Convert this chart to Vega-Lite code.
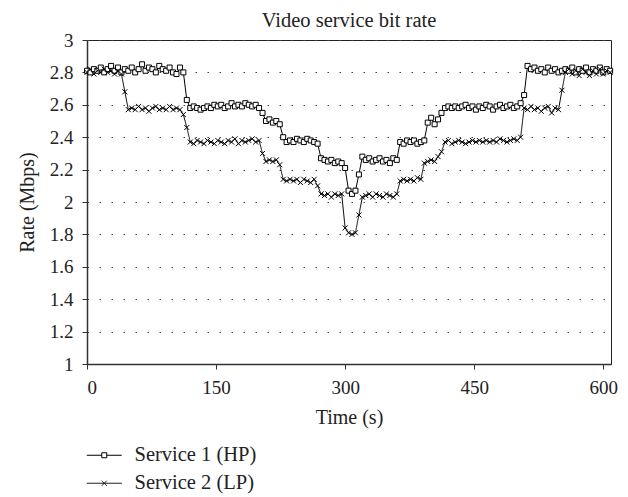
{
"$schema": "https://vega.github.io/schema/vega-lite/v6.json",
"width": 524, "height": 324,
"autosize": {"type": "none"},
"padding": {"left": 87, "top": 40, "right": 17, "bottom": 133},
"background": "white",
"config": {
  "font": "Liberation Serif",
  "view": {"stroke": "#222", "strokeWidth": 1},
  "axis": {"labelFont": "Liberation Serif", "titleFont": "Liberation Serif", "labelFontSize": 19, "titleFontSize": 20, "labelColor": "#222", "titleColor": "#222", "titleFontWeight": "normal", "domainColor": "#333", "tickColor": "#333", "domainWidth": 1.5}
},
"title": {"text": "Video service bit rate", "fontSize": 20.5, "fontWeight": "normal", "font": "Liberation Serif", "color": "#222", "offset": 0, "anchor": "middle"},
"data": {"values": [
{"t":0,"hp":2.81,"lp":2.80},{"t":4,"hp":2.80,"lp":2.82},{"t":8,"hp":2.82,"lp":2.79},{"t":12,"hp":2.81,"lp":2.81},
{"t":16,"hp":2.83,"lp":2.80},{"t":20,"hp":2.80,"lp":2.82},{"t":24,"hp":2.82,"lp":2.80},{"t":28,"hp":2.84,"lp":2.81},
{"t":32,"hp":2.81,"lp":2.79},{"t":36,"hp":2.83,"lp":2.81},{"t":40,"hp":2.80,"lp":2.79},{"t":44,"hp":2.82,"lp":2.68},
{"t":48,"hp":2.81,"lp":2.57},{"t":52,"hp":2.83,"lp":2.58},{"t":56,"hp":2.80,"lp":2.57},{"t":60,"hp":2.82,"lp":2.59},
{"t":64,"hp":2.85,"lp":2.57},{"t":68,"hp":2.81,"lp":2.58},{"t":72,"hp":2.83,"lp":2.56},{"t":76,"hp":2.82,"lp":2.58},
{"t":80,"hp":2.80,"lp":2.59},{"t":84,"hp":2.84,"lp":2.57},{"t":88,"hp":2.82,"lp":2.58},{"t":92,"hp":2.81,"lp":2.57},
{"t":96,"hp":2.83,"lp":2.59},{"t":100,"hp":2.80,"lp":2.57},{"t":104,"hp":2.79,"lp":2.58},{"t":108,"hp":2.83,"lp":2.57},
{"t":112,"hp":2.80,"lp":2.54},{"t":116,"hp":2.63,"lp":2.46},{"t":120,"hp":2.58,"lp":2.37},{"t":124,"hp":2.59,"lp":2.36},
{"t":128,"hp":2.58,"lp":2.38},{"t":132,"hp":2.57,"lp":2.37},{"t":136,"hp":2.58,"lp":2.36},{"t":140,"hp":2.59,"lp":2.38},
{"t":144,"hp":2.58,"lp":2.37},{"t":148,"hp":2.60,"lp":2.36},{"t":152,"hp":2.59,"lp":2.38},{"t":156,"hp":2.60,"lp":2.37},
{"t":160,"hp":2.58,"lp":2.36},{"t":164,"hp":2.59,"lp":2.38},{"t":168,"hp":2.61,"lp":2.37},{"t":172,"hp":2.59,"lp":2.39},
{"t":176,"hp":2.60,"lp":2.36},{"t":180,"hp":2.59,"lp":2.38},{"t":184,"hp":2.61,"lp":2.37},{"t":188,"hp":2.60,"lp":2.38},
{"t":192,"hp":2.59,"lp":2.39},{"t":196,"hp":2.60,"lp":2.37},{"t":200,"hp":2.58,"lp":2.38},{"t":204,"hp":2.55,"lp":2.30},
{"t":208,"hp":2.50,"lp":2.25},{"t":212,"hp":2.51,"lp":2.26},{"t":216,"hp":2.49,"lp":2.25},{"t":220,"hp":2.50,"lp":2.26},
{"t":224,"hp":2.48,"lp":2.23},{"t":228,"hp":2.40,"lp":2.14},{"t":232,"hp":2.37,"lp":2.13},{"t":236,"hp":2.38,"lp":2.14},
{"t":240,"hp":2.37,"lp":2.13},{"t":244,"hp":2.39,"lp":2.14},{"t":248,"hp":2.38,"lp":2.12},{"t":252,"hp":2.37,"lp":2.14},
{"t":256,"hp":2.39,"lp":2.13},{"t":260,"hp":2.38,"lp":2.12},{"t":264,"hp":2.37,"lp":2.14},{"t":268,"hp":2.36,"lp":2.10},
{"t":272,"hp":2.27,"lp":2.05},{"t":276,"hp":2.26,"lp":2.04},{"t":280,"hp":2.25,"lp":2.05},{"t":284,"hp":2.26,"lp":2.03},
{"t":288,"hp":2.24,"lp":2.05},{"t":292,"hp":2.25,"lp":2.04},{"t":296,"hp":2.24,"lp":2.05},{"t":300,"hp":2.21,"lp":1.84},
{"t":304,"hp":2.07,"lp":1.81},{"t":308,"hp":2.05,"lp":1.80},{"t":312,"hp":2.07,"lp":1.81},{"t":316,"hp":2.17,"lp":1.92},
{"t":320,"hp":2.28,"lp":2.03},{"t":324,"hp":2.26,"lp":2.04},{"t":328,"hp":2.27,"lp":2.05},{"t":332,"hp":2.25,"lp":2.03},
{"t":336,"hp":2.26,"lp":2.05},{"t":340,"hp":2.27,"lp":2.04},{"t":344,"hp":2.25,"lp":2.03},{"t":348,"hp":2.26,"lp":2.05},
{"t":352,"hp":2.24,"lp":2.04},{"t":356,"hp":2.27,"lp":2.03},{"t":360,"hp":2.26,"lp":2.05},{"t":364,"hp":2.37,"lp":2.13},
{"t":368,"hp":2.36,"lp":2.14},{"t":372,"hp":2.38,"lp":2.13},{"t":376,"hp":2.37,"lp":2.14},{"t":380,"hp":2.38,"lp":2.13},
{"t":384,"hp":2.36,"lp":2.15},{"t":388,"hp":2.37,"lp":2.14},{"t":392,"hp":2.38,"lp":2.24},{"t":396,"hp":2.49,"lp":2.25},
{"t":400,"hp":2.52,"lp":2.26},{"t":404,"hp":2.48,"lp":2.25},{"t":408,"hp":2.51,"lp":2.28},{"t":412,"hp":2.55,"lp":2.31},
{"t":416,"hp":2.58,"lp":2.37},{"t":420,"hp":2.59,"lp":2.38},{"t":424,"hp":2.58,"lp":2.36},{"t":428,"hp":2.59,"lp":2.37},
{"t":432,"hp":2.58,"lp":2.38},{"t":436,"hp":2.59,"lp":2.37},{"t":440,"hp":2.60,"lp":2.36},{"t":444,"hp":2.58,"lp":2.37},
{"t":448,"hp":2.59,"lp":2.38},{"t":452,"hp":2.57,"lp":2.37},{"t":456,"hp":2.59,"lp":2.38},{"t":460,"hp":2.58,"lp":2.37},
{"t":464,"hp":2.60,"lp":2.38},{"t":468,"hp":2.59,"lp":2.37},{"t":472,"hp":2.57,"lp":2.38},{"t":476,"hp":2.59,"lp":2.37},
{"t":480,"hp":2.60,"lp":2.39},{"t":484,"hp":2.58,"lp":2.38},{"t":488,"hp":2.59,"lp":2.37},{"t":492,"hp":2.60,"lp":2.38},
{"t":496,"hp":2.58,"lp":2.39},{"t":500,"hp":2.59,"lp":2.38},{"t":504,"hp":2.61,"lp":2.40},{"t":508,"hp":2.66,"lp":2.58},
{"t":512,"hp":2.84,"lp":2.57},{"t":516,"hp":2.82,"lp":2.59},{"t":520,"hp":2.83,"lp":2.57},{"t":524,"hp":2.81,"lp":2.58},
{"t":528,"hp":2.82,"lp":2.56},{"t":532,"hp":2.80,"lp":2.58},{"t":536,"hp":2.83,"lp":2.59},{"t":540,"hp":2.81,"lp":2.55},
{"t":544,"hp":2.82,"lp":2.58},{"t":548,"hp":2.80,"lp":2.57},{"t":552,"hp":2.81,"lp":2.69},{"t":556,"hp":2.82,"lp":2.80},
{"t":560,"hp":2.81,"lp":2.82},{"t":564,"hp":2.83,"lp":2.79},{"t":568,"hp":2.80,"lp":2.81},{"t":572,"hp":2.82,"lp":2.78},
{"t":576,"hp":2.81,"lp":2.82},{"t":580,"hp":2.83,"lp":2.80},{"t":584,"hp":2.80,"lp":2.78},{"t":588,"hp":2.82,"lp":2.81},
{"t":592,"hp":2.81,"lp":2.79},{"t":596,"hp":2.83,"lp":2.82},{"t":600,"hp":2.80,"lp":2.79},{"t":604,"hp":2.82,"lp":2.81},
{"t":608,"hp":2.81,"lp":2.80}
]},
"transform": [{"fold": ["hp", "lp"], "as": ["series", "rate"]}],
"encoding": {
  "x": {"field": "t", "type": "quantitative", "scale": {"domain": [0, 609], "nice": false, "zero": false},
        "axis": {"values": [0, 150, 300, 450, 600], "title": "Time (s)", "grid": false, "tickSize": 5, "labelPadding": 9, "titlePadding": 10}},
  "y": {"field": "rate", "type": "quantitative", "scale": {"domain": [1, 3], "nice": false, "zero": false},
        "axis": {"values": [1, 1.2, 1.4, 1.6, 1.8, 2, 2.2, 2.4, 2.6, 2.8, 3], "format": "~g", "title": "Rate (Mbps)", "grid": true, "gridDash": [1.5, 10.5], "gridColor": "#444", "gridWidth": 1.2, "tickSize": 5, "labelPadding": 9, "titlePadding": 12}}
},
"layer": [
  {"transform": [{"filter": "datum.series == 'hp'"}],
   "mark": {"type": "line", "strokeWidth": 1},
   "encoding": {"color": {"field": "series", "type": "nominal",
      "scale": {"domain": ["hp"], "range": ["black"]},
      "legend": {"orient": "none", "legendX": 7, "legendY": 405, "direction": "vertical", "title": null, "padding": 0,
        "symbolType": "M-3.5,0H-0.5M0.5,0H3.5M-0.5,-0.5H0.5V0.5H-0.5Z", "symbolSize": 100, "symbolStrokeWidth": 1, "symbolStrokeColor": "black", "symbolFillColor": "white",
        "labelFont": "Liberation Serif", "labelFontSize": 20.5, "labelColor": "#222", "labelOffset": 20, "labelExpr": "'Service 1 (HP)'"}}}},
  {"transform": [{"filter": "datum.series == 'lp'"}],
   "mark": {"type": "line", "strokeWidth": 1, "color": "black"},
   "encoding": {"strokeDash": {"field": "series", "type": "nominal",
      "scale": {"domain": ["lp"], "range": [[1, 0]]},
      "legend": {"orient": "none", "legendX": 7, "legendY": 433, "direction": "vertical", "title": null, "padding": 0,
        "symbolType": "M-3.5,0H3.5M-0.5,-0.5L0.5,0.5M-0.5,0.5L0.5,-0.5", "symbolSize": 100, "symbolStrokeWidth": 1, "symbolStrokeColor": "black", "symbolFillColor": "white",
        "labelFont": "Liberation Serif", "labelFontSize": 20.5, "labelColor": "#222", "labelOffset": 20, "labelExpr": "'Service 2 (LP)'"}}}},
  {"mark": {"type": "point", "filled": true, "fill": "white", "stroke": "black", "strokeWidth": 1, "opacity": 1, "size": 25},
   "encoding": {"shape": {"field": "series", "type": "nominal",
      "scale": {"domain": ["hp", "lp"], "range": ["square", "M-1,-1L1,1M-1,1L1,-1"]}, "legend": null}}}
]
}
